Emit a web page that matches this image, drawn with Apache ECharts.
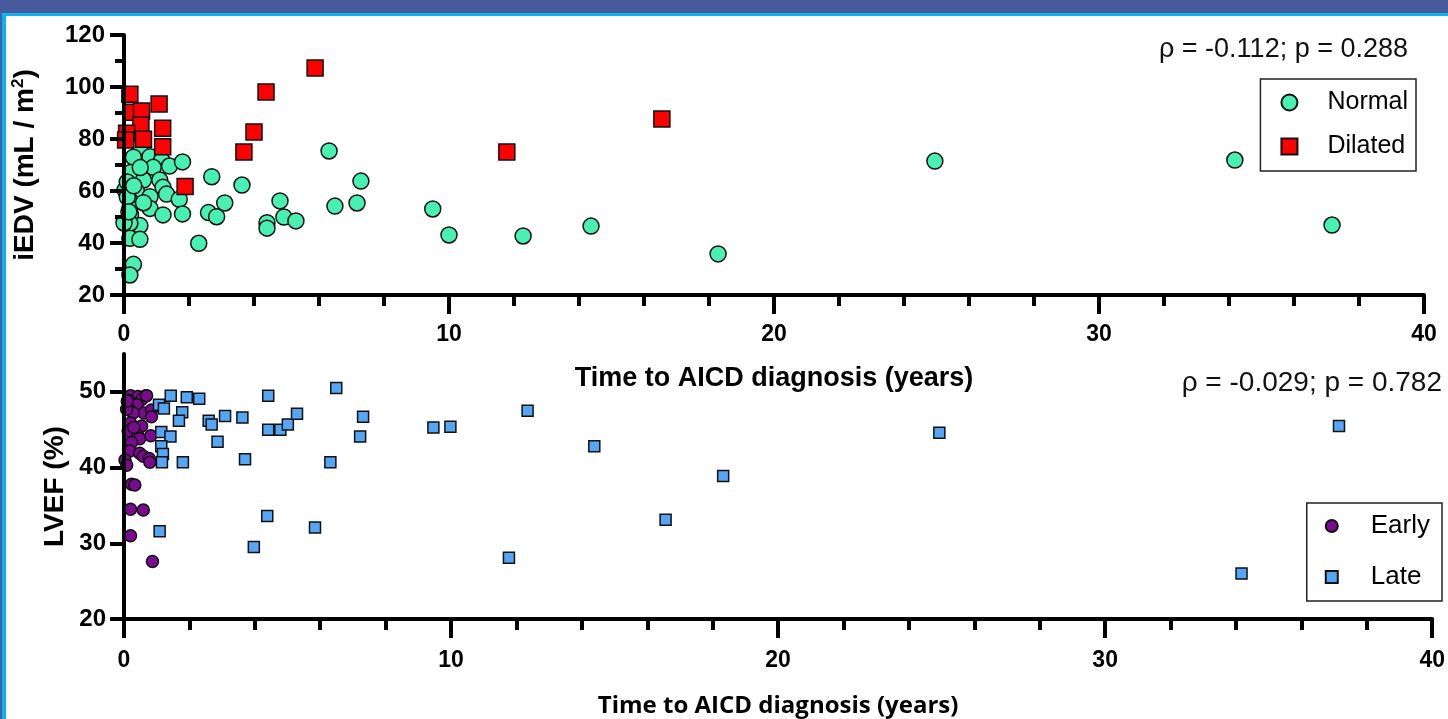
<!DOCTYPE html>
<html>
<head>
<meta charset="utf-8">
<script src="https://cdn.jsdelivr.net/npm/echarts@6/dist/echarts.min.js"></script>
<style>
  html, body { margin:0; padding:0; width:1448px; height:719px; overflow:hidden; background:#fff; }
  #topbar { position:absolute; left:0; top:0; width:1448px; height:13px; background:#48599c; }
  #topline { position:absolute; left:2px; top:13px; width:1446px; height:3px; background:#10b2ee; }
  #leftdark { position:absolute; left:0; top:13px; width:2px; height:706px; background:#3f63ad; }
  #leftlight { position:absolute; left:2px; top:13px; width:4px; height:706px; background:#10b2ee; }
  #chart { position:absolute; left:0; top:0; width:1448px; height:719px; }
</style>
</head>
<body>
<div id="topbar"></div><div id="topline"></div><div id="leftdark"></div><div id="leftlight"></div>
<div id="chart"></div>
<script>
// ---- data (years, value) ----
const normalData = [
  [0.49,77.0],[0.29,73.0],[0.8,73.2],[1.16,71.9],[0.9,69.1],[1.4,69.6],[1.8,71.2],[0.2,67.1],
  [0.6,64.2],[1.1,64.2],[1.2,61.4],[0.39,59.7],[0.18,56.5],[0.8,57.8],[1.31,58.8],[1.7,56.8],
  [0.18,53.3],[0.8,53.3],[1.2,50.8],[1.8,51.2],[0.2,50.8],[0.49,46.7],[0.18,47.6],[0.18,41.8],
  [0.49,41.4],[0.29,31.8],[0.18,27.7],[0.0,47.7],[2.3,39.9],[2.7,65.5],[2.6,51.7],[2.85,50.1],
  [3.1,55.4],[0.03,60.4],[0.1,57.7],[0.1,63.5],[0.5,69.0],[0.3,62.0],[0.15,52.0],[0.6,55.5],
  [3.63,62.3],[4.4,47.8],[4.4,45.7],[4.8,56.2],[4.92,50.0],[5.29,48.5],[6.31,75.4],[6.49,54.2],
  [7.17,55.4],[7.29,63.8],[9.5,53.1],[10.0,43.1],[12.28,42.7],[14.37,46.5],[18.28,35.8],
  [24.95,71.5],[34.18,71.9],[37.17,46.9]
];
const dilatedData = [
  [0.18,97.2],[0.22,90.3],[0.54,90.8],[1.08,93.5],[0.52,85.4],[0.08,82.2],[1.19,84.1],[0.6,79.9],
  [1.19,77.0],[1.88,61.7],[0.05,79.6],[3.69,75.0],[4.0,82.7],[4.37,98.1],[5.88,107.3],
  [11.78,75.0],[16.55,87.7]
];
const earlyData = [
  [0.2,49.5],[0.43,49.4],[0.67,49.5],[0.13,48.9],[0.54,49.0],[0.4,48.3],[0.18,47.6],[0.61,47.2],
  [0.84,47.6],[0.84,46.7],[0.28,47.2],[0.2,45.9],[0.28,45.2],[0.54,45.5],[0.13,44.8],[0.43,44.2],
  [0.48,43.8],[0.82,44.2],[0.23,43.3],[0.18,42.2],[0.48,41.9],[0.59,41.5],[0.77,41.2],[0.79,40.7],
  [0.03,41.0],[0.08,40.3],[0.23,37.8],[0.33,37.7],[0.2,34.5],[0.59,34.4],[0.2,31.0],[0.87,27.6],
  [0.08,47.7],[0.1,48.8],[0.69,49.5],[0.3,45.3]
];
const lateData = [
  [1.43,49.5],[1.92,49.3],[2.3,49.1],[1.07,48.3],[1.22,47.8],[1.78,47.3],[1.68,46.2],[2.59,46.2],
  [2.68,45.7],[3.09,46.8],[3.62,46.6],[4.41,49.5],[4.41,45.0],[4.78,45.0],[5.01,45.7],[5.29,47.1],
  [1.14,44.7],[1.42,44.1],[2.86,43.4],[1.14,42.8],[1.19,41.8],[1.16,40.7],[1.8,40.7],[3.7,41.1],
  [1.09,31.6],[4.38,33.6],[3.97,29.5],[5.84,32.1],[6.31,40.7],[6.49,50.5],[7.22,44.1],[7.31,46.7],
  [9.46,45.3],[9.98,45.4],[11.77,28.1],[12.34,47.5],[14.38,42.8],[16.56,33.1],[18.32,38.9],
  [24.93,44.6],[34.17,26.0],[37.15,45.5]
];
const topYTicks = [20, 40, 60, 80, 100, 120];
const bottomYTicks = [20, 30, 40, 50];
const xTicks = [0, 10, 20, 30, 40];
const topStat = 'ρ = -0.112; p = 0.288';
const bottomStat = 'ρ = -0.029; p = 0.782';

const AR = '"Liberation Sans", Arial, sans-serif';
const axisLine = { show: true, lineStyle: { color: '#000', width: 4 } };

function xAxisCfg(gridIndex, name, nameGap, nameFont, nameSize, labelMargin) {
  return {
    type: 'value', gridIndex, min: 0, max: 40, interval: 10, z: 5,
    name, nameLocation: 'middle', nameGap, nameMoveOverlap: false,
    nameTextStyle: { fontFamily: nameFont, fontWeight: 'bold', fontSize: nameSize, color: '#000' },
    axisLine,
    axisTick: { show: true, length: 19, lineStyle: { color: '#000', width: 4 } },
    minorTick: { show: true, splitNumber: 5, length: 11, lineStyle: { color: '#000', width: 4 } },
    axisLabel: { margin: labelMargin, fontFamily: AR, fontWeight: 'bold', fontSize: 23, color: '#000',
                 customValues: xTicks },
    splitLine: { show: false }, minorSplitLine: { show: false }
  };
}

const chart = echarts.init(document.getElementById('chart'), null, { renderer: 'canvas' });
chart.setOption({
  animation: false,
  backgroundColor: 'transparent',
  grid: [
    { left: 124, right: 24, top: 35, height: 260 },
    { left: 124, right: 5, top: 354, height: 267 }
  ],
  xAxis: [
    xAxisCfg(0, 'Time to AICD diagnosis (years)', 70, AR, 27, 28),
    xAxisCfg(1, 'Time to AICD diagnosis (years)', 75, '"Open Sans", sans-serif', 24, 30)
  ],
  yAxis: [
    {
      type: 'value', gridIndex: 0, min: 20, max: 120, interval: 20, z: 5,
      name: 'iEDV (mL / m{sup|2})', nameLocation: 'middle', nameGap: 84, nameMoveOverlap: false,
      nameTextStyle: { fontFamily: AR, fontWeight: 'bold', fontSize: 28, color: '#000',
        rich: { sup: { fontFamily: AR, fontWeight: 'bold', fontSize: 17, color: '#000', padding: [0, 0, 13, 0] } } },
      axisLine,
      axisTick: { show: true, length: 14, lineStyle: { color: '#000', width: 4 } },
      minorTick: { show: true, splitNumber: 2, length: 9, lineStyle: { color: '#000', width: 4 } },
      axisLabel: { margin: 19, fontFamily: AR, fontWeight: 'bold', fontSize: 24, color: '#000', customValues: topYTicks },
      splitLine: { show: false }, minorSplitLine: { show: false }
    },
    {
      type: 'value', gridIndex: 1, min: 20, max: 55, interval: 10, z: 5,
      name: 'LVEF (%)', nameLocation: 'middle', nameGap: 55, nameMoveOverlap: false,
      nameTextStyle: { fontFamily: AR, fontWeight: 'bold', fontSize: 28, color: '#000' },
      axisLine,
      axisTick: { show: true, length: 14, lineStyle: { color: '#000', width: 4 }, customValues: bottomYTicks },
      axisLabel: { margin: 18, fontFamily: AR, fontWeight: 'bold', fontSize: 24, color: '#000', customValues: bottomYTicks },
      splitLine: { show: false }
    }
  ],
  legend: [
    {
      data: ['Normal', 'Dilated'], orient: 'vertical', right: 32, top: 79,
      padding: [11, 8, 12, 20], itemGap: 19, itemWidth: 16, itemHeight: 16,
      borderColor: '#222', borderWidth: 1.5, backgroundColor: '#fff',
      textStyle: { fontFamily: AR, fontSize: 25, lineHeight: 24, color: '#000', padding: [0, 0, 0, 25] }
    },
    {
      data: ['Early', 'Late'], orient: 'vertical', right: 6, top: 503,
      padding: [10, 12, 11, 18], itemGap: 25, itemWidth: 12, itemHeight: 12,
      borderColor: '#222', borderWidth: 1.5, backgroundColor: '#fff',
      textStyle: { fontFamily: AR, fontSize: 26, lineHeight: 24, color: '#000', padding: [0, 0, 0, 28] }
    }
  ],
  graphic: [
    { type: 'text', x: 1408, y: 50, z: 10,
      style: { text: topStat, align: 'right', verticalAlign: 'middle', font: '27px "Liberation Sans", Arial', fill: '#111' } },
    { type: 'text', x: 1442, y: 383, z: 10,
      style: { text: bottomStat, align: 'right', verticalAlign: 'middle', font: '28px "Liberation Sans", Arial', fill: '#111' } }
  ],
  series: [
    { name: 'Normal', type: 'scatter', xAxisIndex: 0, yAxisIndex: 0, data: normalData, clip: false,
      symbol: 'circle', symbolSize: 16,
      itemStyle: { color: '#48f0b2', borderColor: '#111', borderWidth: 1.5, opacity: 1 } },
    { name: 'Dilated', type: 'scatter', xAxisIndex: 0, yAxisIndex: 0, data: dilatedData, clip: false,
      symbol: 'rect', symbolSize: 16,
      itemStyle: { color: '#ff0000', borderColor: '#111', borderWidth: 1.5, opacity: 1 } },
    { name: 'Early', type: 'scatter', xAxisIndex: 1, yAxisIndex: 1, data: earlyData, clip: false,
      symbol: 'circle', symbolSize: 12,
      itemStyle: { color: '#7b0a90', borderColor: '#111', borderWidth: 1.5, opacity: 1 } },
    { name: 'Late', type: 'scatter', xAxisIndex: 1, yAxisIndex: 1, data: lateData, clip: false,
      symbol: 'rect', symbolSize: 11,
      itemStyle: { color: '#55a6f7', borderColor: '#111', borderWidth: 1.5, opacity: 1 } }
  ]
});
</script>
</body>
</html>
